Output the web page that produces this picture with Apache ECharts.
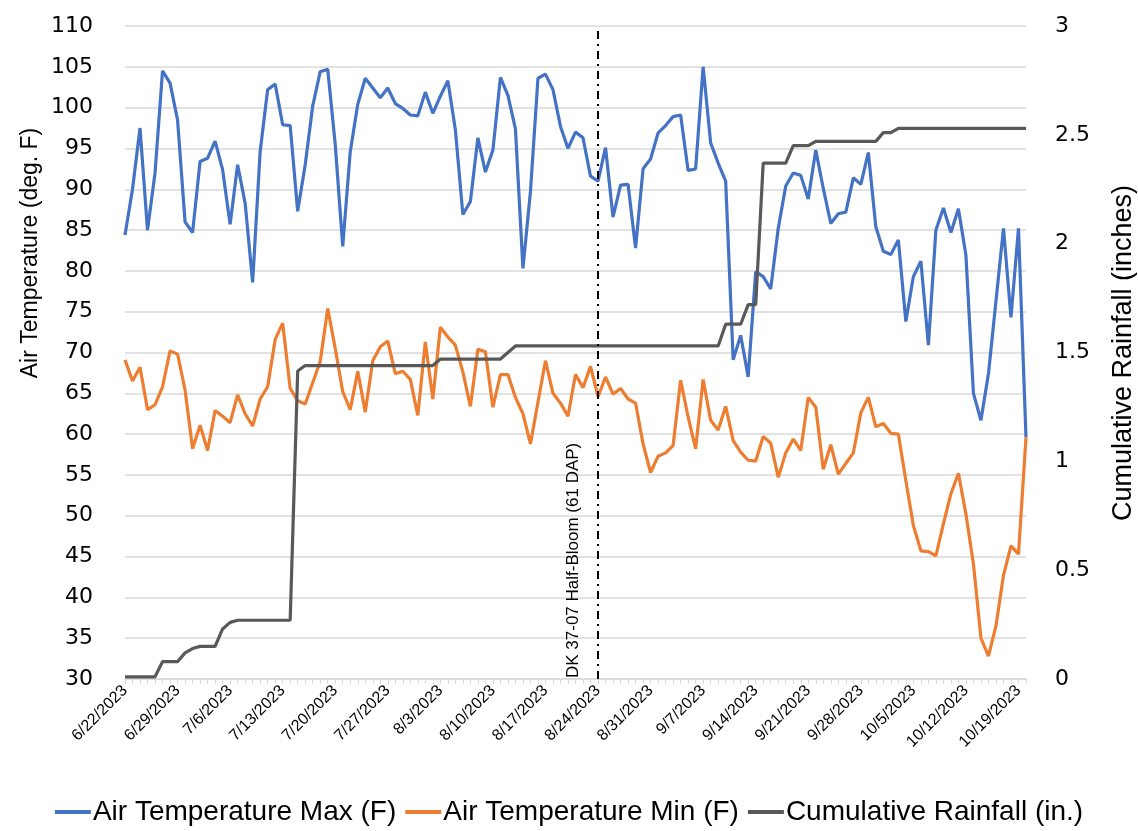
<!DOCTYPE html>
<html>
<head>
<meta charset="utf-8">
<script src="https://cdn.jsdelivr.net/npm/echarts@6/dist/echarts.min.js"></script>
<style>
html,body{margin:0;padding:0;background:#fff;}
#chart{width:1138px;height:831px;}
</style>
</head>
<body>
<div id="chart"></div>
<script>
// Daily dates 6/22/2023 .. 10/20/2023
const startDate = new Date(2023, 5, 22);
const dayCount = 121;
const dates = [];
for (let i = 0; i < dayCount; i++) {
  const d = new Date(startDate.getFullYear(), startDate.getMonth(), startDate.getDate() + i);
  dates.push((d.getMonth() + 1) + '/' + d.getDate() + '/' + d.getFullYear());
}

const seriesNames = ['Air Temperature Max (F)', 'Air Temperature Min (F)', 'Cumulative Rainfall (in.)'];

const maxTemp = [
  84.4, 90, 97.5, 85, 92, 104.5, 103, 98.5, 86, 84.7,
  93.4, 93.8, 95.9, 92.4, 85.7, 93, 88.3, 78.6, 94.6, 102.2,
  102.9, 97.9, 97.8, 87.3, 93, 100.2, 104.4, 104.7, 95.5, 83,
  94.6, 100.4, 103.6, 102.4, 101.2, 102.4, 100.5, 99.9, 99.1, 99,
  101.9, 99.3, 101.4, 103.3, 97.3, 86.9, 88.5, 96.3, 92.1, 94.8,
  103.7, 101.5, 97.4, 80.3, 89.7, 103.6, 104.1, 102.2, 97.7, 95,
  97, 96.3, 91.6, 91, 95.1, 86.6, 90.5, 90.6, 82.8, 92.5,
  93.7, 96.9, 97.8, 98.9, 99.1, 92.3, 92.5, 105, 95.7, 93.2,
  91, 69.1, 72.1, 67, 79.9, 79.3, 77.8, 85.2, 90.4, 92,
  91.7, 88.8, 94.8, 90.1, 85.8, 87, 87.2, 91.4, 90.6, 94.5,
  85.4, 82.4, 82, 83.8, 73.8, 79.3, 81.2, 70.9, 85, 87.7,
  84.7, 87.6, 81.9, 65, 61.7, 67.4, 76.3, 85.2, 74.3, 85.2,
  59.6
];

const minTemp = [
  69.1, 66.5, 68.2, 63, 63.6, 65.8, 70.2, 69.8, 65.4, 58.2,
  61.1, 58, 62.9, 62.2, 61.4, 64.8, 62.5, 61, 64.3, 65.8,
  71.6, 73.6, 65.6, 64.1, 63.7, 66.3, 68.9, 75.4, 70.5, 65.2,
  63, 67.7, 62.7, 69, 70.7, 71.4, 67.4, 67.7, 66.7, 62.3,
  71.3, 64.3, 73.1, 71.9, 70.9, 67.6, 63.4, 70.4, 70.1, 63.3,
  67.3, 67.3, 64.5, 62.5, 58.8, 63.9, 69, 65, 63.8, 62.2,
  67.3, 65.7, 68.3, 64.6, 67, 64.9, 65.6, 64.3, 63.8, 58.8,
  55.3, 57.3, 57.7, 58.6, 66.6, 62.1, 58.2, 66.7, 61.7, 60.5,
  63.4, 59.2, 57.8, 56.8, 56.7, 59.7, 58.9, 54.7, 57.7, 59.4,
  58, 64.5, 63.3, 55.7, 58.7, 55.1, 56.4, 57.7, 62.6, 64.5,
  60.9, 61.3, 60.1, 60, 54.3, 48.8, 45.7, 45.6, 45.1, 49,
  52.7, 55.2, 50.2, 44.1, 35, 32.8, 36.5, 42.7, 46.3, 45.3,
  59.6
];

const rainfall = [
  0.01, 0.01, 0.01, 0.01, 0.01, 0.08, 0.08, 0.08, 0.12, 0.14,
  0.15, 0.15, 0.15, 0.23, 0.26, 0.27, 0.27, 0.27, 0.27, 0.27,
  0.27, 0.27, 0.27, 1.415, 1.44, 1.44, 1.44, 1.44, 1.44, 1.44,
  1.44, 1.44, 1.44, 1.44, 1.44, 1.44, 1.44, 1.44, 1.44, 1.44,
  1.44, 1.44, 1.47, 1.47, 1.47, 1.47, 1.47, 1.47, 1.47, 1.47,
  1.47, 1.50, 1.53, 1.53, 1.53, 1.53, 1.53, 1.53, 1.53, 1.53,
  1.53, 1.53, 1.53, 1.53, 1.53, 1.53, 1.53, 1.53, 1.53, 1.53,
  1.53, 1.53, 1.53, 1.53, 1.53, 1.53, 1.53, 1.53, 1.53, 1.53,
  1.63, 1.63, 1.63, 1.72, 1.72, 2.37, 2.37, 2.37, 2.37, 2.45,
  2.45, 2.45, 2.47, 2.47, 2.47, 2.47, 2.47, 2.47, 2.47, 2.47,
  2.47, 2.51, 2.51, 2.53, 2.53, 2.53, 2.53, 2.53, 2.53, 2.53,
  2.53, 2.53, 2.53, 2.53, 2.53, 2.53, 2.53, 2.53, 2.53, 2.53,
  2.53
];

const bloomDate = '8/24/2023';
const bloomLabel = 'DK 37-07 Half-Bloom (61 DAP)';
const leftTitle = 'Air Temperature (deg. F)';
const rightTitle = 'Cumulative Rainfall (inches)';

const colors = ['#4472C4', '#ED7D31', '#595959'];
const gridColor = '#D9D9D9';

const chart = echarts.init(document.getElementById('chart'), null, {renderer: 'canvas'});
const option = {
  animation: false,
  backgroundColor: '#fff',
  color: colors,
  grid: {left: 125, right: 112, top: 26, bottom: 152, containLabel: false},
  legend: {
    bottom: 0,
    left: 'center',
    icon: 'rect',
    itemWidth: 36,
    itemHeight: 4,
    itemGap: 9,
    textStyle: {fontSize: 28, fontFamily: 'Liberation Sans', color: '#000', padding: [0, 0, 0, -3]},
    data: seriesNames
  },
  xAxis: {
    type: 'category',
    data: dates,
    boundaryGap: false,
    axisLine: {lineStyle: {color: gridColor, width: 1.5}},
    axisTick: {show: true, interval: 0, length: 5, lineStyle: {color: gridColor}},
    axisLabel: {interval: 6, rotate: 45, fontSize: 16, fontFamily: 'Liberation Sans', color: '#000', margin: 9}
  },
  yAxis: [
    {
      type: 'value', min: 30, max: 110, interval: 5,
      axisLine: {show: false}, axisTick: {show: false},
      axisLabel: {fontSize: 22, fontFamily: 'DejaVu Sans', color: '#000', margin: 32},
      splitLine: {lineStyle: {color: gridColor, width: 1.5}}
    },
    {
      type: 'value', min: 0, max: 3, interval: 0.5, position: 'right',
      axisLine: {show: false}, axisTick: {show: false},
      axisLabel: {fontSize: 22, fontFamily: 'DejaVu Sans', color: '#000', margin: 29},
      splitLine: {show: false}
    }
  ],
  graphic: [
    {type: 'text', x: 31, y: 253, rotation: Math.PI / 2,
     style: {text: leftTitle, fontSize: 23, fontFamily: 'Liberation Sans', fill: '#000', textAlign: 'center', textVerticalAlign: 'middle'}},
    {type: 'text', x: 1124, y: 353, rotation: Math.PI / 2,
     style: {text: rightTitle, fontSize: 27, fontFamily: 'Liberation Sans', fill: '#000', textAlign: 'center', textVerticalAlign: 'middle'}}
  ],
  series: [
    {
      name: seriesNames[0], type: 'line', data: maxTemp, yAxisIndex: 0,
      showSymbol: false, symbol: 'none', lineStyle: {width: 3.2, color: colors[0]},
      markLine: {
        silent: true, symbol: 'none',
        lineStyle: {color: '#000', width: 2, type: [8, 5, 2, 5]},
        label: {show: true, formatter: bloomLabel, position: 'insideStartTop', fontSize: 17, fontFamily: 'Liberation Sans', color: '#000', distance: [1, 16]},
        data: [{xAxis: bloomDate}]
      }
    },
    {
      name: seriesNames[1], type: 'line', data: minTemp, yAxisIndex: 0,
      showSymbol: false, symbol: 'none', lineStyle: {width: 3.2, color: colors[1]}
    },
    {
      name: seriesNames[2], type: 'line', data: rainfall, yAxisIndex: 1,
      showSymbol: false, symbol: 'none', lineStyle: {width: 3.2, color: colors[2]}
    }
  ]
};
chart.setOption(option);
</script>
</body>
</html>
